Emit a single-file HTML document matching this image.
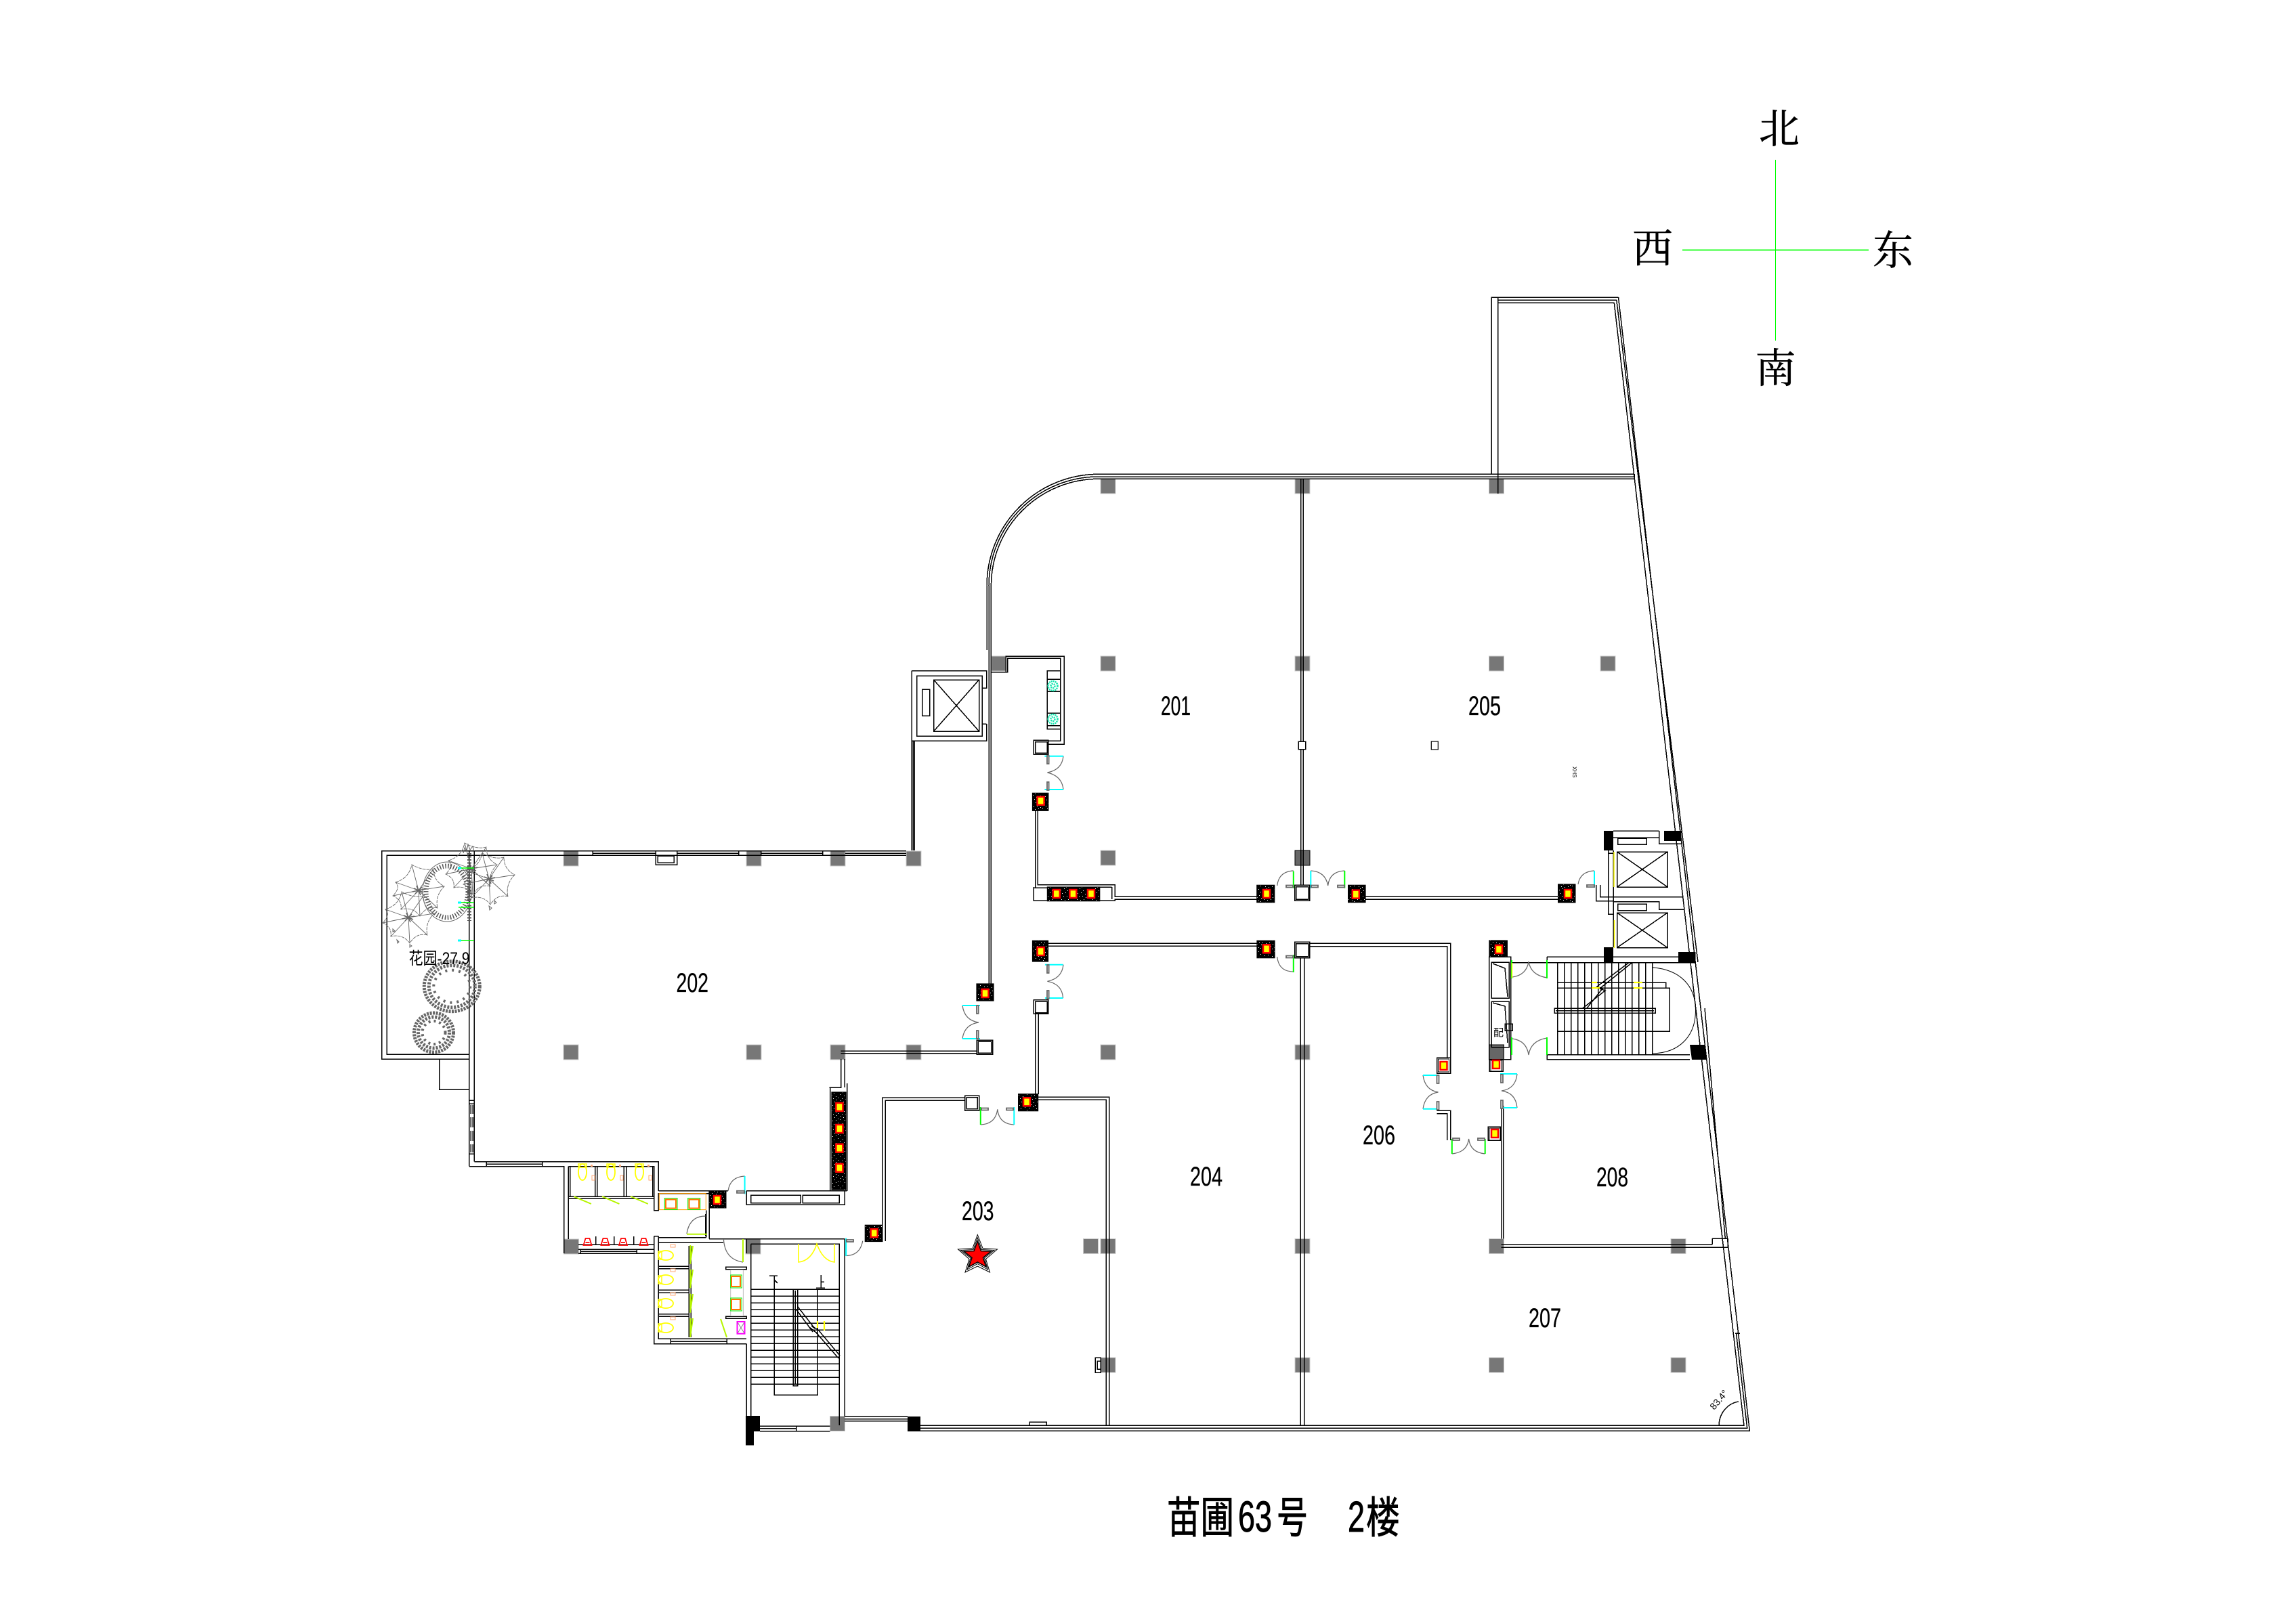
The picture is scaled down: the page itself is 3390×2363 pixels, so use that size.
<!DOCTYPE html>
<html lang="zh"><head><meta charset="utf-8"><title>苗圃63号 2楼</title>
<style>html,body{margin:0;padding:0;background:#fff}svg{display:block}
.w{fill:none;stroke:#000;stroke-width:1.5;shape-rendering:crispEdges}
.a{fill:none;stroke:#666;stroke-width:1.2}
.cy{stroke:#0ff;stroke-width:2;fill:none}.gr{stroke:#0f0;stroke-width:2;fill:none}
.l{font-family:"Liberation Sans Narrow","Liberation Sans",sans-serif;font-size:40px;fill:#000;stroke:#000;stroke-width:.3}
.s{font-family:"Noto Serif CJK SC",serif;font-size:60px;fill:#000;text-anchor:middle;stroke:#000;stroke-width:.5}
.t{font-family:"Liberation Sans","Noto Sans CJK SC",sans-serif;font-size:64px;fill:#000;stroke:#000;stroke-width:.9}
.yg{stroke:#b6f500;stroke-width:2;fill:none}
.y{stroke:#ff0;stroke-width:1.6;fill:none}
</style></head><body>
<svg width="3390" height="2363" viewBox="0 0 3390 2363" xmlns="http://www.w3.org/2000/svg">
<defs>
<pattern id="sp" width="23" height="23" patternUnits="userSpaceOnUse">
<rect width="23" height="23" fill="#000"/>
<path d="M2 3h1v1h-1zM7 1h1v1h-1zM12 4h1v1h-1zM18 2h1v1h-1zM21 6h1v1h-1zM4 8h1v1h-1zM9 7h1v1h-1zM15 9h1v1h-1zM19 11h1v1h-1zM1 12h1v1h-1zM6 13h1v1h-1zM11 12h1v1h-1zM16 14h1v1h-1zM22 15h1v1h-1zM3 17h1v1h-1zM8 18h1v1h-1zM13 17h1v1h-1zM18 19h1v1h-1zM5 21h1v1h-1zM10 22h1v1h-1zM15 21h1v1h-1zM21 20h1v1h-1z" fill="#fff"/>
</pattern>
<rect id="c" width="22" height="22" fill="#777" stroke="#ccc" stroke-width="1"/>
<g id="r"><rect x="-5" y="-6" width="10" height="12" fill="#ff0" stroke="#f00" stroke-width="2.5"/></g>
<g id="tn" fill="none"><ellipse cx="0" cy="-2" rx="6" ry="12" stroke="#ff0" stroke-width="1.8"/><rect x="-6" y="-14" width="12" height="5" stroke="#ff0" stroke-width="1.4"/><rect x="12" y="-13" width="3" height="3" fill="#fa7"/><rect x="14" y="3" width="4" height="7" stroke="#fa7"/></g>
<g id="ts" fill="none"><ellipse cx="8" cy="0" rx="11" ry="7" stroke="#ff0" stroke-width="1.8"/><rect x="-3" y="-6" width="5" height="12" stroke="#ff0" stroke-width="1.4"/><rect x="15" y="-16" width="7" height="4" stroke="#fa7"/></g>
<path id="u" d="M-6 5 L-3 -5 H3 L6 5 Z M-7 5 H7 M-3 1 H3" fill="none" stroke="#f00" stroke-width="1.7"/>
<g id="leaf" fill="none" stroke="#666" stroke-width=".9"><path d="M0 0L-34 -12M0 0L-10 -38M0 0L22 -32M0 0L38 -6M0 0L28 26M0 0L2 38M0 0L-26 28M0 0L-38 8"/><path d="M-34 -12Q-14 -18 -10 -38Q8 -28 22 -32Q22 -14 38 -6Q24 8 28 26Q12 22 2 38Q-8 24 -26 28Q-24 14 -38 8Q-26 -4 -34 -12Z" stroke-dasharray="5 1"/><path d="M-7 -3L7 3M-9 2L9 -2M-3 -7L3 7M-5 5L5 -5" stroke-width="1.6"/></g>
</defs>
<rect width="3390" height="2363" fill="#fff"/>

<!-- compass -->
<path d="M2621.5 236V503M2484 369.3H2759" stroke="#0f0" stroke-width="1.2" fill="none" shape-rendering="crispEdges"/>
<text class="s" x="2627" y="211">北</text><text class="s" x="2440" y="388">西</text><text class="s" x="2795" y="391">东</text><text class="s" x="2621.5" y="565">南</text>

<!-- columns -->
<g>
<use href="#c" x="1464" y="969"/><use href="#c" x="1625" y="969"/><use href="#c" x="1912" y="969"/><use href="#c" x="2198.5" y="969"/><use href="#c" x="2363" y="969"/>
<use href="#c" x="1625" y="707"/><use href="#c" x="1912" y="707"/><use href="#c" x="2198.5" y="707"/>
<use href="#c" x="832" y="1257"/><use href="#c" x="1102" y="1257"/><use href="#c" x="1226" y="1257"/><use href="#c" x="1338" y="1257"/><use href="#c" x="1625" y="1256"/>
<rect x="1912" y="1256" width="22" height="22" fill="#666" stroke="#000"/>
<use href="#c" x="832" y="1543"/><use href="#c" x="1102" y="1543"/><use href="#c" x="1226" y="1543"/><use href="#c" x="1338" y="1543"/><use href="#c" x="1625" y="1543"/><use href="#c" x="1912" y="1543"/>
<use href="#c" x="832.5" y="1830"/><use href="#c" x="1101" y="1830"/><use href="#c" x="1599.5" y="1829.5"/><use href="#c" x="1625" y="1829.5"/><use href="#c" x="1912" y="1829.5"/><use href="#c" x="2198.5" y="1829.5"/><use href="#c" x="2467" y="1829.5"/>
<use href="#c" x="1625" y="2005"/><use href="#c" x="1912" y="2005"/><use href="#c" x="2198.5" y="2005"/><use href="#c" x="2467" y="2005"/>
<use href="#c" x="1225.5" y="2091.5"/>
<rect x="2198.5" y="1543" width="22" height="22" fill="#666" stroke="#000"/>
</g>

<!-- black structural -->
<g fill="#000">
<path d="M1101 2091H1122V2114H1113V2134.5H1101Z"/>
<rect x="1340" y="2092" width="19" height="22"/>
<rect x="2368" y="1227" width="14" height="29"/><rect x="2457" y="1227" width="25.5" height="15"/>
<rect x="2368" y="1399" width="14" height="22.7"/><rect x="2478" y="1406" width="25.5" height="15.7"/>
<path d="M2495 1543H2517L2520 1565H2498Z"/>
</g>

<!-- walls -->
<path class="w" d="
M563.5 1256.7H1338M571.3 1263.3H1338
M875 1260H968M999.5 1260H1090.5M1123.5 1260H1214.5M1248 1260H1338
M875 1256.7V1263.3M968 1256.7V1277.3H999.5V1256.7M1090.5 1256.7V1263.3M1123.5 1256.7V1263.3M1214.5 1256.7V1263.3
M971 1264H995V1274H971Z
M693 1256.7H563.5V1564H692.8M692.8 1263.3H571.3V1557H692.8
M692.8 1256.7V1722.5M700.4 1256.7V1715.6M692.8 1625H700.4M692.8 1630H700.4M692.8 1704H700.4
M695 1632V1645M695 1650V1665M695 1670V1685M695 1690V1702M698 1632V1645M698 1650V1665M698 1670V1685M698 1690V1702
M648.6 1564V1609H692.8
M692.8 1722.5H832.7V1851M700.4 1715.6H972.4V1758.8
M718.4 1715.6V1722.5M800.5 1715.6V1722.5M718.4 1719H800.5
M839.4 1722.5V1830M839.4 1722.5H965.7V1787.5H972.4V1762.6H1047M972.4 1758.8H1075
M841.6 1722.5V1767M878.7 1722.5V1767M881.8 1722.5V1767M921 1722.5V1767M924.6 1722.5V1767M963.5 1722.5V1767
M840 1767H965.7M840 1770.3H965.7
M1047 1758.8V1829.6M1042.5 1787.5V1827.7M1071.5 1758.8V1783.7H1047M1041.6 1793V1825.8
M972.4 1827.7H1042.5M965.7 1825.8H972.4M965.7 1825.8V1851.4M972.4 1825.8V1835.4H1068
M854 1838H965.7M854 1845H965.7M854 1851.4H965.7M857 1845V1851.4M940 1845V1851.4M857 1848H940
M879.6 1825.8V1838M906.8 1825.8V1838M935.8 1825.8V1838
M965.7 1851.4V1984.6H1102M972.4 1835.4V1977H1102M990 1977V1984.6M1073 1977V1984.6M990 1981H1073
M972.4 1870H1017M972.4 1873.6H1017M972.4 1905.4H1017M972.4 1909H1017M972.4 1940.6H1017M972.4 1944.4H1017
M1017 1840V1975M1020 1840V1975
M1071.5 1871H1102V1874.8H1071.5ZM1071.5 1944.4H1102V1947H1071.5Z
M1047 1829.6H1247M1102 1829.6V1851M1102 1984.6V2091M1108.6 1837.3V2091M1108.6 1837.3H1239.4V2105M1247 1829.6V2092
M1122 2106H1225.5M1122 2113.6H1225.5M1122 2109.5H1175.5M1175.5 2106V2113.6
M1247 2091.8H1340M1247 2095.6H1340M1247 2098.7H1340
M1108.6 1904H1239.4M1108.6 1914H1239.4M1108.6 1924H1239.4M1108.6 1934H1239.4M1108.6 1944H1239.4M1108.6 1954H1239.4M1108.6 1964H1239.4M1108.6 1974H1239.4M1108.6 1984H1239.4M1108.6 1994H1239.4M1108.6 2004H1239.4M1108.6 2014H1239.4M1108.6 2024H1239.4M1108.6 2034H1239.4M1108.6 2044H1239.4
M1171 1904H1177.8V2046.6H1171ZM1174.4 1906V2044
M1143.4 1904V2060.4H1207.2V1904
M1175 1933L1200 1967L1195 1960L1205 1968L1238 2006M1178 1930L1203 1962L1198 1958L1208 1964L1240 2002
M1136 1884H1148M1143.4 1884V1904M1143 1890L1148 1895M1212 1883V1902M1205 1902H1218M1212 1893H1217
M1241.6 1552H1442M1241.6 1555.5H1442M1224.6 1606H1241.6V1564M1247 1564V1606M1250.7 1600V1758.8M1225.5 1606V1758.8
M1102 1758.8H1250.7M1102 1758.8V1779H1247V1758.8
M1108.6 1765.3H1182.2V1776.8H1108.6ZM1185.3 1765.3H1239.4V1776.8H1185.3Z
M1302.8 1834V1621H1424.5M1307.2 1833V1625H1424.5
M1424.5 1618.3H1445.5V1640H1424.5ZM1427 1620.5H1443V1637.5H1427Z
M1442 1536H1465.6V1557H1442ZM1444 1538H1463.5V1555H1444Z
M1532.6 1620H1637.5V2105M1532.6 1624.3H1633V2105
M1617.3 2005H1625V2027H1617.3ZM1620 2010H1625V2022H1620Z
M1346.4 990.7H1456.7V1016H1450M1456.7 1069V1094.3H1346.4V990.7M1450 1069H1456.7
M1353.6 998H1450V1087H1353.6Z
M1378.6 1004H1445.5V1080H1378.6ZM1378.6 1004L1445.5 1080M1445.5 1004L1378.6 1080
M1361.6 1018H1372.8V1057H1361.6Z
M1346.4 1094V1256M1348.2 1094V1256M1350.4 1094V1256
M1457 960V865A165 165 0 0 1 1622 700.3M1460 1453V865A162 161 0 0 1 1622 704M1463.4 1453V865A158.6 158 0 0 1 1622 707.3
M1464 992.7H1487.5V972H1565.6V1094.3H1547.8M1485.3 992V969.3H1571V1099.3H1547.8
M1526.3 1093.3H1547.8V1114.3H1526.3ZM1528.5 1095.5H1546V1112H1528.5Z
M1546.4 990.7H1565.6V1076.7H1546.4ZM1546.4 1003H1565.6M1546.4 1021H1565.6M1546.4 1053H1565.6M1546.4 1071.7H1565.6
M1528.6 1197.3V1311M1532 1197.3V1306.7H1646V1324.3H1855.8M1526 1311H1546.4M1526 1310V1330H1546.4M1623.7 1330H1646V1328.3H1855.8M1641.6 1310V1328M1623.7 1310H1641.6
M1920.5 707V1095.3M1924 707V1095.3M1920.5 1106.7V1307.3M1924 1106.7V1307.3M1917.4 1095.3H1927.7V1106.7H1917.4Z
M1911.6 1307.3H1933.5V1330H1911.6ZM1913.5 1309.5H1931.5V1328H1913.5Z
M2016 1324.3H2300.7M2016 1328.3H2300.7
M1547.3 1393.3H1856M1547.3 1397.3H1856
M1911.6 1391.3H1933.5V1414.7H1911.6ZM1913.5 1393.5H1931.5V1412.5H1913.5Z
M1933.5 1393.3H2141.5V1563M1933.5 1397.5H2136.5V1562
M1920 1414.7V2105M1925.5 1414.7V2105
M1526.3 1476.7H1547.8V1497.3H1526.3ZM1528.5 1479H1546V1495.5H1528.5Z
M1528.6 1497V1616M1533 1497V1616
M2121.6 1562H2141.5V1585H2121.6ZM2121.6 1640H2141.5V1684M2121.6 1644.8H2136.5V1684
M2217.2 1633V1829.5M2219.5 1633V1829.5
M2197 1664H2215V1684H2197Z
M2216.5 1838H2528M2216.5 1842H2551M2528 1829H2551M2528 1829V1838M2551 1829V1842
M2382 1227H2449.5M2382 1237H2449.5V1246H2482.5M2449.5 1227V1246
M2388.7 1238H2431V1247H2388.7Z
M2387.5 1258H2462V1310H2387.5ZM2387.5 1258L2462 1310M2462 1258L2387.5 1310
M2382 1324.5H2484.4M2374.5 1256V1350H2382M2382 1256V1399M2374.5 1260H2382M2374.5 1324.5H2382M2374.5 1330.5H2382
M2382 1331.5H2449.5V1343H2487M2388.7 1335H2431V1344.5H2388.7Z
M2387.5 1348H2462V1399.6H2387.5ZM2387.5 1348L2462 1399.6M2462 1348L2387.5 1399.6
M2356.5 1307V1330.5H2374.5M2362.7 1307V1324.5H2374.5
M2300.7 1306H2325.6V1332.6H2300.7Z
M2284 1413H2478M2284 1413V1421.7M2230.6 1421.7H2503.5M2284 1557.8H2495M2284 1557.8V1564.8H2495
M2299.5 1421.7V1557.8M2309.5 1421.7V1557.8M2319.5 1421.7V1557.8M2329.5 1421.7V1557.8M2339.5 1421.7V1557.8M2349.5 1421.7V1557.8M2359.5 1421.7V1557.8M2369.5 1421.7V1557.8M2379.5 1421.7V1557.8M2389.5 1421.7V1557.8M2399.5 1421.7V1557.8M2409.5 1421.7V1557.8M2419.5 1421.7V1557.8M2429.5 1421.7V1557.8M2439.5 1421.7V1557.8
M2295 1489H2444V1496H2295ZM2297 1492.5H2442
M2299.5 1459H2465V1523.4H2299.5M2299.5 1451H2459.5V1459
M2409.7 1421.7L2362 1460L2370 1463L2337 1489M2405 1421.7L2358 1457L2366 1460L2343 1489
M2198.5 1413H2230.6V1564.8H2198.5ZM2199 1389H2225V1413H2199ZM2199 1565H2219V1582H2199Z
M2202 1421H2228V1474H2202ZM2202 1479H2228V1546.5H2202ZM2204 1423L2222 1430L2226 1472M2204 1481L2222 1486L2226 1540
M2222 1512H2233V1522H2222Z
M2202.3 700V439H2389.5M2211.5 729V439M2211.5 443.3H2386.8M2211.5 447.3H2383.3
M1622 700.3H2413M1622 707.3H2413M1622 704H2413M2413 700V707.3
M2389.5 439L2583.3 2113.3H1359M2383.3 447.3L2575 2105.3H1359M2386.8 443.3L2507 1421M2517 1489L2547.3 1829M2563.5 1969L2579.7 2109.3H1359
M2547 1829H2551M2562 1969H2569
M1520 2106V2100H1545V2106
M2538 2105A34 36 0 0 1 2567 2070
"/>
<!-- big arc east stairs -->
<path d="M2439.6 1428.7C2480 1432 2503.5 1455 2503.5 1492C2503.5 1530 2480 1555 2439.6 1556" fill="none" stroke="#000" stroke-width="1"/>
<!-- door arcs -->
<path class="a" d="M1885.7 1308Q1888 1287 1909.8 1286M1935.3 1286Q1957 1287 1960.7 1308Q1963 1287 1985.3 1286M1885.7 1413Q1888 1435 1909.8 1435M2330 1306Q2333 1287 2354 1286"/>
<path class="a" d="M1570 1116.7Q1568 1137 1546.4 1141Q1568 1146 1570 1166M1570 1424.7Q1568 1445 1546.4 1449.3Q1568 1453 1569.6 1474M1421 1485Q1424 1507 1445 1510Q1424 1513 1421 1534M1447.8 1661Q1470 1660 1472.8 1638.3Q1475 1660 1497.3 1661"/>
<path class="a" d="M2101 1588Q2104 1610 2123.5 1613Q2104 1616 2101 1637.7M2240 1586Q2238 1608 2217 1611Q2238 1614 2240 1636M2143.8 1704Q2166 1702 2168.6 1682Q2171 1702 2192.7 1704M2233 1443Q2254 1440 2257 1420Q2260 1440 2284 1444M2233 1534Q2254 1537 2257 1558Q2260 1537 2284 1533M1075 1758.8Q1078 1738 1099.6 1737M1041.6 1796Q1018 1796 1014 1822M1273.7 1832.7Q1270 1854 1249.2 1854.5M1068.4 1830Q1070 1860 1097 1864"/>
<path class="y" d="M1179 1837V1864Q1198 1862 1206 1837Q1215 1862 1232 1864V1837"/>
<!-- door leaves -->
<path class="cy" d="M1542.4 1116.7H1570M1542.4 1166H1570M1542.9 1424.7H1569.6M1542.9 1474H1569.6M1421 1485H1447M1421 1534H1447M2101 1588H2124.6M2101 1637.7H2124.6M2215 1586H2240M2215 1636H2240M1935.3 1286V1311.7M1497.3 1635V1661M1099.6 1737V1763.4M1249.2 1828.5V1855M2354 1286V1311"/>
<path class="gr" d="M1909.8 1286.7V1311.7M1985.3 1286V1311.7M1909.8 1410V1436M1447.8 1635V1661M2143.8 1682V1704M2192.7 1682V1704M2232 1418V1445M2284 1418V1445M2232 1532V1558M2284 1532V1558"/>
<path fill="#fff" stroke="#666" stroke-width="1.8" d="M1546 1116h2.6v12h-2.6zM1546 1155h2.6v12h-2.6zM1546 1425h2.6v12h-2.6zM1546 1463h2.6v12h-2.6zM1899 1307.5h10v3h-10zM1936 1307.5h10v3h-10zM1975 1307.5h10v3h-10zM1899 1411.5h10v3h-10zM2343 1307h11v3h-11zM1449 1636.5h10v3h-10zM1486 1636.5h10v3h-10zM1442 1485h2.6v12h-2.6zM1442 1522h2.6v12h-2.6zM2121.5 1588h3v12h-3zM2121.5 1627h3v12h-3zM2216 1587h3v12h-3zM2216 1625h3v12h-3zM2145 1681h10v3h-10zM2182 1681h10v3h-10zM1088 1758.8h11v3h-11zM1250 1831h10v3h-10z"/>

<!-- shafts -->
<g stroke="#000" stroke-width="1.2">
<rect x="1524.5" y="1171.3" width="23.3" height="26" fill="url(#sp)"/>
<rect x="1546.4" y="1310" width="77.3" height="20.7" fill="url(#sp)"/>
<rect x="1855.8" y="1307.3" width="25.9" height="25.4" fill="url(#sp)"/>
<rect x="1990.6" y="1307.3" width="25.4" height="25.4" fill="url(#sp)"/>
<rect x="2300.7" y="1306" width="24.9" height="26.6" fill="url(#sp)"/>
<rect x="1524.5" y="1389.3" width="23" height="30.7" fill="url(#sp)"/>
<rect x="1856" y="1389.3" width="26" height="25.4" fill="url(#sp)"/>
<rect x="1442" y="1453" width="25" height="25" fill="url(#sp)"/>
<rect x="1503.6" y="1615.7" width="29" height="25" fill="url(#sp)"/>
<rect x="1228" y="1613" width="21" height="144" fill="url(#sp)"/>
<rect x="1047" y="1758.8" width="24.5" height="25" fill="url(#sp)"/>
<rect x="1277.3" y="1809.3" width="25.5" height="24.2" fill="url(#sp)"/>
<rect x="2199" y="1389" width="25" height="24" fill="url(#sp)"/>
</g>
<rect x="2123.5" y="1564" width="16" height="19" fill="#fff" stroke="#000"/>
<rect x="2199" y="1666" width="16" height="18" fill="#fff" stroke="#000"/>
<rect x="2201" y="1566" width="16" height="16" fill="#fff" stroke="#000"/>
<g><use href="#r" x="1536.6" y="1182.7"/><use href="#r" x="1559.8" y="1320"/><use href="#r" x="1584.4" y="1320"/><use href="#r" x="1611" y="1320"/><use href="#r" x="1870" y="1320"/><use href="#r" x="2001.8" y="1320.7"/><use href="#r" x="2315" y="1320"/><use href="#r" x="1536.6" y="1405"/><use href="#r" x="1870" y="1401.3"/><use href="#r" x="1454.5" y="1467"/><use href="#r" x="1516" y="1627.3"/><use href="#r" x="1239.4" y="1635"/><use href="#r" x="1239.4" y="1667"/><use href="#r" x="1239.4" y="1695.7"/><use href="#r" x="1239.4" y="1724.8"/><use href="#r" x="1059" y="1772"/><use href="#r" x="1290.7" y="1821.2"/><use href="#r" x="2213" y="1402"/><use href="#r" x="2131.5" y="1574"/><use href="#r" x="2209" y="1572"/><use href="#r" x="2207" y="1674"/></g>

<!-- teal plants -->
<g fill="none" stroke="#18e6b0" stroke-width="2.5" stroke-dasharray="2 1"><circle cx="1554.5" cy="1013" r="3"/><circle cx="1554.5" cy="1013" r="7"/><circle cx="1554.5" cy="1062" r="3"/><circle cx="1554.5" cy="1062" r="7"/></g>

<!-- washrooms -->
<g>
<use href="#tn" x="860" y="1733"/><use href="#tn" x="902" y="1733"/><use href="#tn" x="944" y="1733"/>
<use href="#ts" x="975" y="1854"/><use href="#ts" x="975" y="1890"/><use href="#ts" x="975" y="1925"/><use href="#ts" x="975" y="1961"/>
<use href="#u" x="867.5" y="1834"/><use href="#u" x="893.4" y="1834"/><use href="#u" x="920" y="1834"/><use href="#u" x="950.5" y="1834"/>
</g>
<path class="yg" d="M847.4 1767.2L872.9 1778M889 1767L914.4 1778M931 1767L956.8 1778M1019.3 1839L1019.3 1866.7M1019.3 1874.8V1902.3M1019.3 1910.8V1938.7M1019.3 1946.7V1975M1023 1840L1019 1866M1023 1875L1019 1902M1023 1911L1019 1938M1023 1947L1019 1975M1064 1948L1073 1975M1014 1822.7H1044M1097 1830V1864"/>
<g fill="none"><rect x="973.3" y="1762.6" width="69" height="24" stroke="#f90"/><rect x="981.3" y="1769.5" width="18.7" height="17" stroke="#0e0"/><rect x="983" y="1771.5" width="15" height="13" stroke="#f70" stroke-width="2"/><rect x="1015.7" y="1769.5" width="18" height="17" stroke="#0e0"/><rect x="1017.5" y="1771.5" width="14.5" height="13" stroke="#f70" stroke-width="2"/>
<rect x="1078.7" y="1875.5" width="18.7" height="68" stroke="#bbb"/><rect x="1078.7" y="1883" width="16.5" height="19" stroke="#0e0"/><rect x="1080" y="1885" width="13" height="15" stroke="#f70" stroke-width="2"/><rect x="1078.7" y="1917" width="16.5" height="19" stroke="#0e0"/><rect x="1080" y="1919" width="13" height="15" stroke="#f70" stroke-width="2"/>
<rect x="1088.5" y="1952" width="11" height="17.7" stroke="#f0f" stroke-width="2"/><path d="M1089 1953L1099 1969M1099 1953L1089 1969" stroke="#888"/></g>
<path d="M1217 1951V1965M1207 1951V1961M2350 1451H2358M2350 1459H2362M2412 1451H2425M2412 1459H2425" stroke="#ff0" stroke-width="2.2"/>
<path d="M2383 1258V1310M2383.5 1359V1400M2232.5 1422V1444" stroke="#ff0" stroke-width="1.5"/>
<!-- garden -->
<g>
<ellipse cx="660" cy="1317" rx="36" ry="44" fill="none" stroke="#666" stroke-width="1"/>
<ellipse cx="660" cy="1317" rx="31" ry="38" fill="none" stroke="#555" stroke-width="7" stroke-dasharray="1.5 2.5"/>
<use href="#leaf" x="618" y="1315"/><use href="#leaf" x="603" y="1355"/><use href="#leaf" x="696" y="1283"/><use href="#leaf" x="722" y="1298"/>
<path d="M693 1260V1360" stroke="#555" stroke-width="6" stroke-dasharray="2 2.5"/>
<path d="M684 1260l2 -8l3 5l2 -10l3 8l4 -5l2 7M586 1388l3 3l-2 2zM605 1395l3 2l-3 2zM722 1338l4 3l-3 3zM730 1330l3 3l-3 2zM580 1372l3 3l-3 1z" fill="none" stroke="#666"/>
<path d="M677 1282H700M677 1333H700M677 1340H700M677 1389H700" stroke="#0f0" stroke-width="1.6"/><path d="M676 1282h5M676 1333h5M676 1389h5" stroke="#0ff" stroke-width="3"/>
<g fill="none" stroke="#666">
<ellipse cx="667.3" cy="1456.7" rx="41" ry="37" stroke-width="5" stroke-dasharray="3 1.5"/>
<ellipse cx="667.3" cy="1456.7" rx="34" ry="31" stroke-width="5" stroke-dasharray="3 2"/>
<ellipse cx="667.3" cy="1456.7" rx="27" ry="24" stroke-width="4" stroke-dasharray="3 7"/>
<ellipse cx="640.5" cy="1525" rx="29" ry="29" stroke-width="5" stroke-dasharray="3 1.5"/>
<ellipse cx="640.5" cy="1525" rx="23" ry="23" stroke-width="5" stroke-dasharray="3 2"/>
<ellipse cx="640.5" cy="1525" rx="17" ry="17" stroke-width="4" stroke-dasharray="3 5"/>
</g>
</g>
<!-- star -->
<g stroke="#000" stroke-linejoin="miter">
<path d="M1443.3 1823.5L1451 1843.5L1472.5 1845L1455.5 1859.5L1461.5 1879L1443.3 1870L1425 1879L1431 1859.5L1414.5 1845L1436 1843.5Z" fill="#fff" stroke-width="1"/>
<path d="M1443.3 1828L1449.5 1845.5L1468 1846.5L1453.5 1858L1458.5 1875L1443.3 1866.5L1428 1875L1433 1858L1418.5 1846.5L1437 1845.5Z" fill="#fff" stroke-width="1"/>
<path d="M1443.3 1833L1448.5 1847.5L1463.5 1848L1451.5 1857.5L1456 1871L1443.3 1864L1430.5 1871L1435 1857.5L1423 1848L1438 1847.5Z" fill="#f00" stroke-width="1.5"/>
</g>

<!-- labels -->
<g>
<text class="l" x="1714" y="1056" textLength="44" lengthAdjust="spacingAndGlyphs">201</text>
<text class="l" x="2168" y="1056" textLength="48" lengthAdjust="spacingAndGlyphs">205</text>
<text class="l" x="998.5" y="1465" textLength="47.5" lengthAdjust="spacingAndGlyphs">202</text>
<text class="l" x="1420" y="1802" textLength="47.5" lengthAdjust="spacingAndGlyphs">203</text>
<text class="l" x="1757" y="1751" textLength="48" lengthAdjust="spacingAndGlyphs">204</text>
<text class="l" x="2012" y="1690" textLength="48" lengthAdjust="spacingAndGlyphs">206</text>
<text class="l" x="2257" y="1960" textLength="48" lengthAdjust="spacingAndGlyphs">207</text>
<text class="l" x="2357" y="1752" textLength="47" lengthAdjust="spacingAndGlyphs">208</text>
<text x="603.5" y="1424" font-family="'Liberation Sans','Noto Sans CJK SC',sans-serif" font-size="25" textLength="90" lengthAdjust="spacingAndGlyphs">花园-27.9</text>
<text x="2205" y="1530" font-family="'Noto Sans CJK SC',sans-serif" font-size="15">配</text>
<text transform="translate(2531 2083) rotate(-50)" font-family="'Liberation Sans',sans-serif" font-size="14">83.4°</text>
<text transform="translate(2322 1132) rotate(90)" font-family="'Liberation Sans',sans-serif" font-size="8">XHS</text>
</g>
<rect x="2113.3" y="1095" width="10" height="12" fill="none" stroke="#000" stroke-width="1.2"/>
<!-- title -->
<g>
<text class="t" x="1723" y="2264" textLength="99" lengthAdjust="spacingAndGlyphs">苗圃</text>
<text class="t" x="1828" y="2262" textLength="50" lengthAdjust="spacingAndGlyphs">63</text>
<text class="t" x="1885" y="2264" textLength="46" lengthAdjust="spacingAndGlyphs">号</text>
<text class="t" x="1990" y="2262" textLength="25" lengthAdjust="spacingAndGlyphs">2</text>
<text class="t" x="2017" y="2264" textLength="50" lengthAdjust="spacingAndGlyphs">楼</text>
</g>
</svg>
</body></html>
